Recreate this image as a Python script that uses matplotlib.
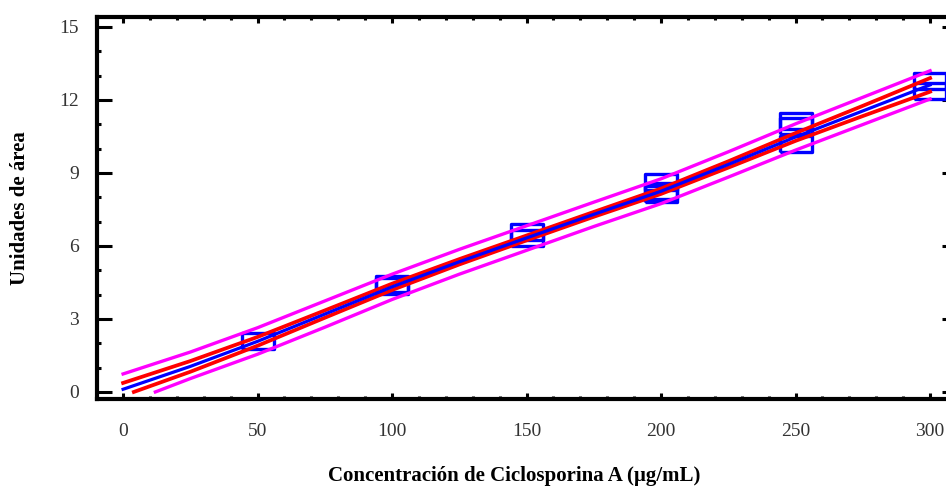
import numpy as np
import matplotlib
matplotlib.use("Agg")
import matplotlib.pyplot as plt
from matplotlib.ticker import MultipleLocator

# -------------------------
# Data
# -------------------------
conc_pts = [50, 100, 100, 150, 150, 200, 200, 200, 250, 250, 250, 300, 300]
area_pts = [2.10, 4.44, 4.36, 6.58, 6.33, 8.63, 8.26, 8.14, 11.14, 10.93, 10.19, 12.78, 12.35]

line_x = [0, 25, 50, 75, 100, 125, 150, 175, 200, 225, 250, 275, 300]
fit_y = [0.11, 1.05, 2.08, 3.20, 4.32, 5.35, 6.33, 7.30, 8.25, 9.35, 10.48, 11.55, 12.62]
conf_up = [0.37, 1.27, 2.26, 3.35, 4.45, 5.46, 6.43, 7.40, 8.36, 9.48, 10.64, 11.76, 12.90]
pred_up = [0.74, 1.64, 2.64, 3.74, 4.84, 5.86, 6.83, 7.80, 8.76, 9.87, 11.02, 12.11, 13.20]

conf_lo_x = [4, 25, 50, 75, 100, 125, 150, 175, 200, 225, 250, 275, 300]
conf_lo = [0.0, 0.83, 1.90, 3.05, 4.19, 5.24, 6.23, 7.20, 8.14, 9.22, 10.32, 11.34, 12.34]
pred_lo_x = [12, 25, 50, 75, 100, 125, 150, 175, 200, 225, 250, 275, 300]
pred_lo = [0.0, 0.55, 1.55, 2.66, 3.80, 4.84, 5.82, 6.80, 7.74, 8.83, 9.94, 10.99, 12.04]

x_ticks = [0, 50, 100, 150, 200, 250, 300]
y_ticks = [0, 3, 6, 9, 12, 15]

# -------------------------
# Plot
# -------------------------
plt.rcParams["font.family"] = ["Liberation Serif", "DejaVu Serif"]

fig = plt.figure(figsize=(9.46, 4.86), dpi=100)
# right spine sits just past the image edge, as in the cropped reference
ax = fig.add_axes([97 / 946, 87 / 486, 860 / 946, 382 / 486])

# wide flat box marker
box = np.array([[-1, -0.5], [1, -0.5], [1, 0.5], [-1, 0.5], [-1, -0.5]])
ax.plot(conc_pts, area_pts, linestyle="none", marker=box, markersize=23.5,
        markerfacecolor="none", markeredgecolor="#0000FF", markeredgewidth=2.4,
        zorder=2)

ax.plot(line_x, pred_up, color="#FF00FF", lw=2.4, zorder=3)
ax.plot(pred_lo_x, pred_lo, color="#FF00FF", lw=2.4, zorder=3)
ax.plot(line_x, conf_up, color="#FF0000", lw=2.7, zorder=4)
ax.plot(conf_lo_x, conf_lo, color="#FF0000", lw=2.7, zorder=4)
ax.plot(line_x, fit_y, color="#0000FF", lw=2.3, zorder=5)

ax.set_xlim(-9.7, 310.0)
ax.set_ylim(-0.29, 15.41)
ax.set_xticks(x_ticks)
ax.set_yticks(y_ticks)
ax.xaxis.set_minor_locator(MultipleLocator(10))
ax.yaxis.set_minor_locator(MultipleLocator(1))

for s in ax.spines.values():
    s.set_linewidth(3)

ax.tick_params(which="both", direction="in", top=True, right=True,
               width=2.2, colors="black", labelcolor="#333333", labelsize=14)
ax.tick_params(axis="x", which="major", length=4, pad=17.5)
ax.tick_params(axis="x", which="minor", length=2.5)
ax.tick_params(axis="y", which="major", length=11, pad=13)
ax.tick_params(axis="y", which="minor", length=3)

ax.set_xlabel("Concentración de Ciclosporina A (µg/mL)", fontsize=15,
              fontweight="bold", va="center")
ax.xaxis.set_label_coords(0.485, -0.2016)
ax.set_ylabel("Unidades de área", fontsize=15, fontweight="bold", va="center")
ax.yaxis.set_label_coords(-0.0896, 0.5)

plt.savefig("out.png", dpi=100)
plt.close()
